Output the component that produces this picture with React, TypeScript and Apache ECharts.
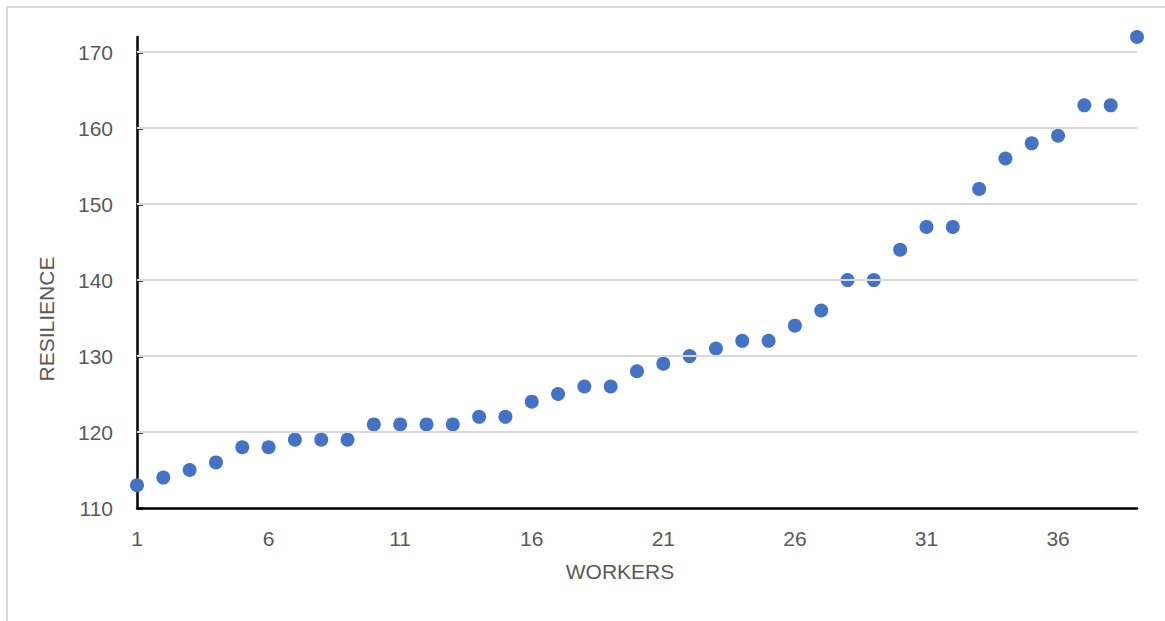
import React, { useEffect, useRef } from "react";
import * as echarts from "echarts";

const workers: number[] = [
  1, 2, 3, 4, 5, 6, 7, 8, 9, 10, 11, 12, 13, 14, 15, 16, 17, 18, 19, 20,
  21, 22, 23, 24, 25, 26, 27, 28, 29, 30, 31, 32, 33, 34, 35, 36, 37, 38, 39,
];
const resilience: number[] = [
  113, 114, 115, 116, 118, 118, 119, 119, 119, 121, 121, 121, 121, 122, 122,
  124, 125, 126, 126, 128, 129, 130, 131, 132, 132, 134, 136, 140, 140, 144,
  147, 147, 152, 156, 158, 159, 163, 163, 172,
];
const xTicks: number[] = [1, 6, 11, 16, 21, 26, 31, 36];
const yTicks: number[] = [110, 120, 130, 140, 150, 160, 170];
const gridValues: number[] = [120, 130, 140, 150, 160, 170];

const LABEL = "#595959";
const FONT = "Liberation Sans";

export default function App() {
  const ref = useRef<HTMLDivElement>(null);
  useEffect(() => {
    if (!ref.current) return;
    const chart = echarts.init(ref.current, undefined, { renderer: "svg" });
    const points = workers.map((w, i) => [w, resilience[i]]);
    chart.setOption({
      animation: false,
      backgroundColor: "transparent",
      grid: { left: 137, right: 28, top: 37, bottom: 113, containLabel: false },
      xAxis: {
        type: "value",
        min: 1,
        max: 39,
        axisLine: { show: true, lineStyle: { color: "#000", width: 2.5 } },
        axisTick: { show: false },
        splitLine: { show: false },
        axisLabel: {
          customValues: xTicks,
          color: LABEL,
          fontFamily: FONT,
          fontSize: 21,
          margin: 20,
        },
      },
      yAxis: {
        type: "value",
        min: 110,
        max: 172,
        axisLine: { show: true, onZero: false, lineStyle: { color: "#000", width: 2.5 } },
        axisTick: {
          show: true,
          inside: true,
          length: 6,
          customValues: yTicks,
          lineStyle: { color: "#000", width: 2.5 },
        },
        splitLine: { show: false },
        axisLabel: {
          customValues: yTicks,
          color: LABEL,
          fontFamily: FONT,
          fontSize: 21,
          margin: 24,
        },
      },
      series: [
        {
          type: "scatter",
          data: points,
          symbolSize: 0,
          silent: true,
          z: 1,
          itemStyle: { opacity: 0 },
          markLine: {
            silent: true,
            symbol: ["none", "none"],
            label: { show: false },
            lineStyle: { color: "#d9d9d9", width: 2, type: "solid" },
            data: gridValues.map((v) => ({ yAxis: v })),
          },
        },
        {
          type: "scatter",
          data: points,
          symbol: "circle",
          symbolSize: 14,
          z: 3,
          clip: false,
          itemStyle: { color: "#4472C4", opacity: 1 },
        },
      ],
      graphic: [
        {
          type: "text",
          x: 620,
          y: 571,
          style: {
            text: "WORKERS",
            fill: LABEL,
            font: `21px "${FONT}"`,
            align: "center",
            verticalAlign: "middle",
          },
        },
        {
          type: "text",
          x: 46,
          y: 319,
          rotation: Math.PI / 2,
          style: {
            text: "RESILIENCE",
            fill: LABEL,
            font: `21px "${FONT}"`,
            align: "center",
            verticalAlign: "middle",
          },
        },
      ],
    });
    return () => chart.dispose();
  }, []);

  return (
    <div
      style={{
        position: "fixed",
        left: 0,
        top: 0,
        width: 1165,
        height: 621,
        overflow: "hidden",
        background: "#fff",
      }}
    >
      <div
        style={{
          position: "absolute",
          left: 6,
          top: 6,
          width: 1250,
          height: 700,
          border: "2px solid #d9d9d9",
          boxSizing: "border-box",
          pointerEvents: "none",
        }}
      />
      <div
        ref={ref}
        style={{ position: "absolute", left: 0, top: 0, width: 1165, height: 621 }}
      />
    </div>
  );
}
